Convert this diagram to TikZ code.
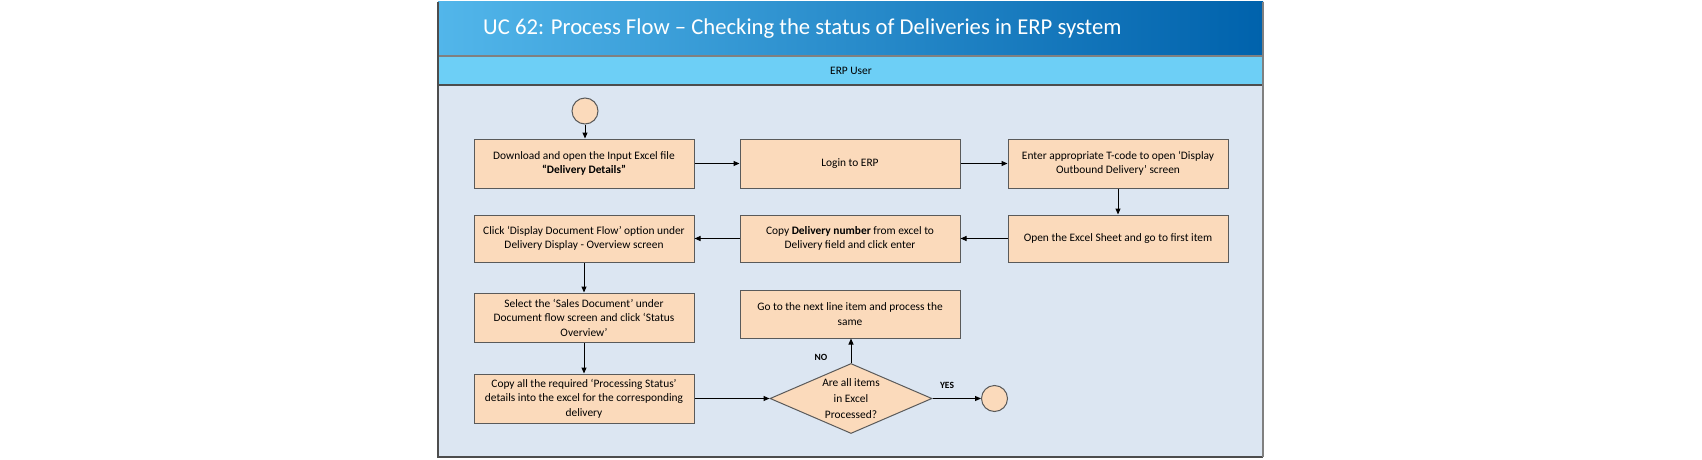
\documentclass[tikz,border=0pt]{standalone}
\usepackage{fontspec}
\setmainfont{Carlito}
\usetikzlibrary{arrows.meta,shapes.geometric}
\definecolor{boxfill}{HTML}{FBDABB}
\definecolor{boxline}{HTML}{5A5A5A}
\definecolor{bodyfill}{HTML}{DCE6F2}
\definecolor{lanefill}{HTML}{6DCFF6}
\definecolor{titleL}{HTML}{52B6EA}
\definecolor{titleR}{HTML}{0062AC}
\definecolor{framec}{HTML}{4D4D4D}
\definecolor{sepc}{HTML}{808080}
\begin{document}
\begin{tikzpicture}[x=1pt,y=-1pt,
  stepbox/.style={draw=boxline, line width=1pt, fill=boxfill, minimum width=220pt,
    minimum height=49pt, inner sep=0pt, align=center, text=black,
    font=\fontsize{11.4}{14.5}\selectfont},
  decision/.style={diamond, draw=boxline, line width=1pt, fill=boxfill, minimum width=162pt,
    minimum height=70pt, inner sep=0pt},
  dtext/.style={inner sep=0pt, align=center, text=black, font=\fontsize{11.4}{16}\selectfont},
  circ/.style={circle, draw=boxline, line width=1pt, fill=boxfill, minimum size=26pt, inner sep=0pt},
  flow/.style={draw=black, line width=1pt, -{Triangle[length=6pt,width=5pt]}},
  lbl/.style={inner sep=0pt, font=\fontsize{9.5}{11}\selectfont\bfseries, text=black}
]
\useasboundingbox (0,0) rectangle (1702,460);
% frame
\fill[bodyfill] (438,85) rectangle (1263,457);
\fill[lanefill] (438,56) rectangle (1263,85);
\shade[left color=titleL, right color=titleR] (438,2) rectangle (1263,56);
\draw[sepc, line width=2pt] (438,56) -- (1263,56);
\draw[framec, line width=1.2pt] (438,85) -- (1263,85);
\draw[framec, line width=1.5pt] (438,2) -- (438,457) -- (1263,457);
\draw[sepc, line width=1.5pt] (1263,2) -- (1263,457);
\node[anchor=west, inner sep=0pt, text=white, font=\fontsize{22.7}{26}\selectfont] (title) at (483,29)
  {UC 62: Process Flow – Checking the status of Deliveries in ERP system};
\node[inner sep=0pt, text=black, font=\fontsize{11.4}{14}\selectfont] (lane) at (851,70.5) {ERP User};
% nodes
\node[circ] (start) at (585,111) {};
\node[stepbox] (b1) at (584,163.5) {Download and open the Input Excel file\\\textbf{“Delivery Details”}};
\node[stepbox] (b2) at (850,163.5) {Login to ERP};
\node[stepbox] (b3) at (1118,163.5) {Enter appropriate T-code to open ‘Display\\Outbound Delivery’ screen};
\node[stepbox, minimum height=47pt] (b4) at (584,238.5) {Click ‘Display Document Flow’ option under\\Delivery Display - Overview screen};
\node[stepbox, minimum height=47pt] (b5) at (850,238.5) {Copy \textbf{Delivery number} from excel to\\Delivery field and click enter};
\node[stepbox, minimum height=47pt] (b6) at (1118,238.5) {Open the Excel Sheet and go to first item};
\node[stepbox] (b7) at (584,317.5) {Select the ‘Sales Document’ under\\Document flow screen and click ‘Status\\Overview’};
\node[stepbox, minimum height=48pt] (b9) at (850,314) {Go to the next line item and process the\\same};
\node[stepbox] (b8) at (584,398.5) {Copy all the required ‘Processing Status’\\details into the excel for the corresponding\\delivery};
\node[decision] (d) at (851,398.5) {};
\node[dtext] (dt) at (d.center) {Are all items\\in Excel\\Processed?};
\node[circ] (end) at (994.5,398.5) {};
\node[lbl] (no) at (821,357) {NO};
\node[lbl] (yes) at (947,385) {YES};
% connectors
\draw[flow] (start.south) -- (start.south |- b1.north);
\draw[flow] (b1) -- (b2);
\draw[flow] (b2) -- (b3);
\draw[flow] (b3) -- (b6);
\draw[flow] (b6) -- (b5);
\draw[flow] (b5) -- (b4);
\draw[flow] (b4) -- (b7);
\draw[flow] (b7) -- (b8);
\draw[flow] (b8) -- (d);
\draw[flow] (d.north) -- (d.north |- b9.south);
\draw[flow] (d) -- (end);
\end{tikzpicture}
\end{document}
